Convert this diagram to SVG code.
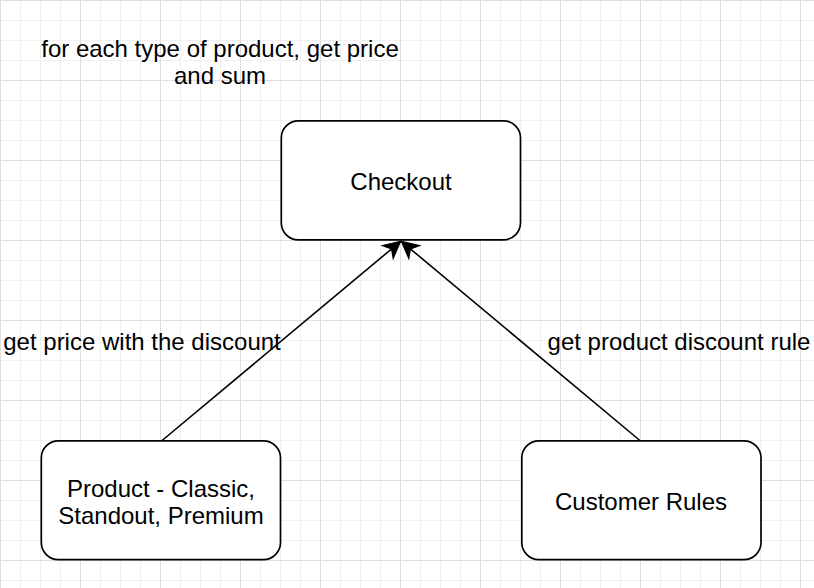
<svg xmlns="http://www.w3.org/2000/svg" width="814" height="588" viewBox="0 0 814 588">
  <defs>
    <pattern id="minor" width="20" height="20" patternUnits="userSpaceOnUse">
      <path d="M0.5 0V20M0 0.5H20" fill="none" stroke="#f0f0f0" stroke-width="1"/>
    </pattern>
    <pattern id="major" width="80" height="80" patternUnits="userSpaceOnUse">
      <path d="M0.5 0V80M0 0.5H80" fill="none" stroke="#dedede" stroke-width="1"/>
    </pattern>
    <marker id="arrow" markerUnits="userSpaceOnUse" markerWidth="40" markerHeight="40" refX="0" refY="0" viewBox="-20 -20 40 40" orient="auto" overflow="visible">
      <path d="M0 0L-17 -8.6L-12 0L-17 8.6Z" fill="#000" stroke="#000" stroke-width="1"/>
    </marker>
    <style>
      .node rect { fill: #ffffff; stroke: #000000; stroke-width: 1.7; }
      .txt { font-family: "Liberation Sans", Arial, Helvetica, sans-serif; font-size: 24px; fill: #000000; text-anchor: middle; }
      .edge { fill: none; stroke: #000000; stroke-width: 1.6; marker-end: url(#arrow); }
    </style>
  </defs>
  <rect width="814" height="588" fill="#ffffff"/>
  <rect width="814" height="588" fill="url(#minor)"/>
  <rect width="814" height="588" fill="url(#major)"/>

  <g id="connectors">
    <line class="edge" x1="161.5" y1="441" x2="400.7" y2="241.3"/>
    <line class="edge" x1="640.5" y1="441" x2="401.3" y2="241.3"/>
  </g>

  <g id="note">
    <text class="txt" x="220" y="57">for each type of product, get price</text>
    <text class="txt" x="220" y="83.5">and sum</text>
  </g>

  <g id="label-left">
    <text class="txt" x="142" y="350">get price with the discount</text>
  </g>
  <g id="label-right">
    <text class="txt" x="679" y="349.5">get product discount rule</text>
  </g>

  <g id="checkout" class="node">
    <rect x="281.3" y="120.8" width="239.2" height="119" rx="17" ry="17"/>
    <text class="txt" x="401" y="190">Checkout</text>
  </g>

  <g id="product" class="node">
    <rect x="41.3" y="440.8" width="239.2" height="118.8" rx="17" ry="17"/>
    <text class="txt" x="161" y="497">Product - Classic,</text>
    <text class="txt" x="161" y="523.7">Standout, Premium</text>
  </g>

  <g id="customer-rules" class="node">
    <rect x="521.8" y="440.8" width="239.2" height="118.8" rx="17" ry="17"/>
    <text class="txt" x="641" y="509.7">Customer Rules</text>
  </g>
</svg>
